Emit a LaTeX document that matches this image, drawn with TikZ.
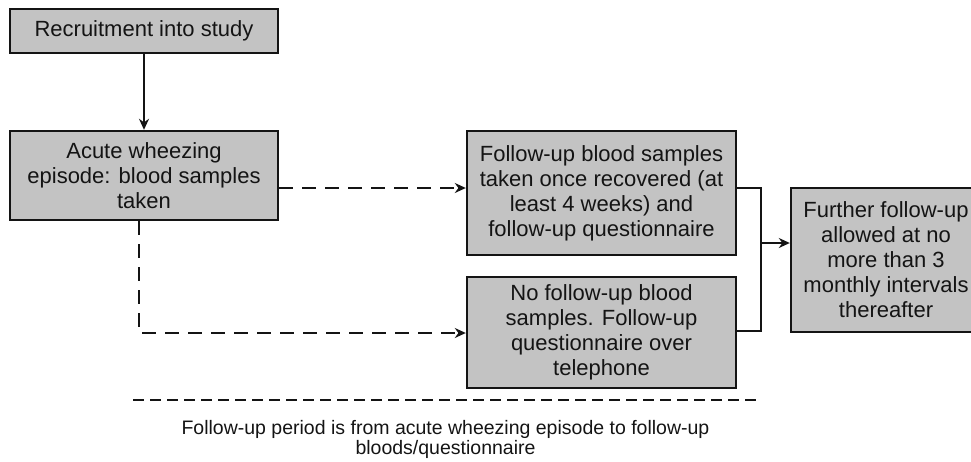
\documentclass[tikz,border=0pt]{standalone}
\usepackage{fontspec}
\setmainfont{Liberation Sans}
\usetikzlibrary{arrows.meta}
\definecolor{boxgray}{RGB}{195,195,195}
\definecolor{ink}{RGB}{20,20,20}
\begin{document}
\begin{tikzpicture}[x=1pt,y=-1pt,
  box/.style={draw=ink, fill=boxgray, line width=2.4pt, rectangle, inner sep=0pt,
    align=center, text=ink, font=\fontsize{22}{25}\selectfont},
  solidarrow/.style={draw=ink, line width=2.4pt, -{Stealth[length=11pt,width=10pt]}},
  dasharrow/.style={draw=ink, line width=2.4pt, dash pattern=on 14pt off 9pt, -{Stealth[length=11pt,width=10pt]}},
  joinline/.style={draw=ink, line width=2.4pt}
]
\useasboundingbox (0,0) rectangle (971,461);
\clip (0,0) rectangle (971,461);

\node[box, minimum width=268pt, minimum height=44pt] (rec) at (144,31) {Recruitment into study};
\node[box, minimum width=268pt, minimum height=89pt] (acute) at (144,175.5) {Acute wheezing\\episode: blood samples\\taken};
\node[box, minimum width=269pt, minimum height=124pt] (fu) at (601.5,193) {Follow-up blood samples\\taken once recovered (at\\least 4 weeks) and\\follow-up questionnaire};
\node[box, minimum width=269pt, minimum height=111pt] (nofu) at (601.5,332.5) {No follow-up blood\\samples. Follow-up\\questionnaire over\\telephone};
\node[box, minimum width=190pt, minimum height=144pt] (fur) at (886,260) {Further follow-up\\allowed at no\\more than 3\\monthly intervals\\thereafter};

\coordinate (j) at (761,243);

\draw[solidarrow] (rec.south) -- (acute.north);
\draw[dasharrow] (acute.east |- 0,188) -- (fu.west |- 0,188);
\draw[dasharrow] (acute.south -| 139,0) |- (nofu.west |- 0,333);
\draw[joinline] (fu.east |- 0,188) -| (j);
\draw[joinline] (nofu.east |- 0,331) -| (j);
\draw[solidarrow] (j) -- (fur.west |- j);

\coordinate (dl) at (133,400);
\coordinate (dr) at (758,400);
\draw[ink, line width=2.6pt, dash pattern=on 11pt off 6pt] (dl) -- (dr);

\node[text=ink, align=center, font=\fontsize{19.5}{20}\selectfont, inner sep=0pt] (cap) at (445.5,439) {Follow-up period is from acute wheezing episode to follow-up\\bloods/questionnaire};
\end{tikzpicture}
\end{document}
